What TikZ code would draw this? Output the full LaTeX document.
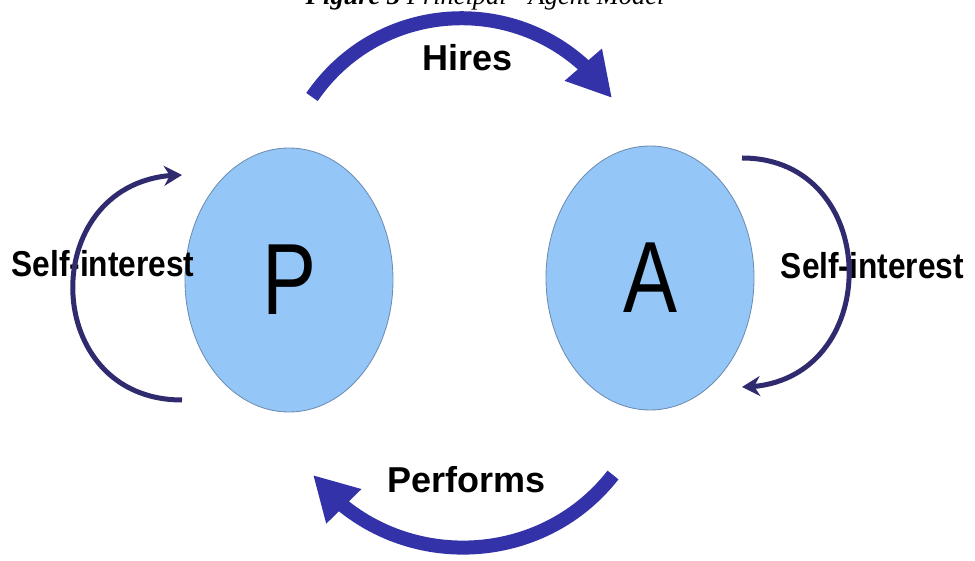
\documentclass[tikz,border=0pt]{standalone}
\usepackage{fontspec}
\setmainfont{Liberation Serif}
\setsansfont{Liberation Sans}
\usetikzlibrary{arrows.meta,bending,shapes.geometric}

\definecolor{arrowblue}{RGB}{52,50,168}
\definecolor{loopnavy}{RGB}{48,42,110}
\definecolor{ovalfill}{RGB}{148,199,248}
\definecolor{ovaledge}{RGB}{110,140,175}

\begin{document}
\begin{tikzpicture}[
	party/.style={ellipse, fill=ovalfill, draw=ovaledge, line width=0.6, minimum width=5.2cm, minimum height=6.6cm, inner sep=0, font=\sffamily\fontsize{72}{72}\selectfont},
	lbl/.style={font=\sffamily\bfseries\fontsize{25.6}{30}\selectfont, inner sep=0},
	bigarrow/.style={-{Triangle[length=1.1cm, width=1.15cm]}, line width=0.35cm, draw=arrowblue},
	selfarrow/.style={-{Stealth[length=0.45cm, width=0.5cm]}, line width=0.125cm, draw=loopnavy}
	]
	\useasboundingbox (0,0) rectangle (24.375,14);
	\clip (0,0) rectangle (24.375,14);

	\node[anchor=base, inner sep=0] (title) at (12.125,13.875) {\fontsize{18.8}{20}\selectfont\itshape\textbf{Figure 3} Principal - Agent Model};

	\node[party] (P) at (7.225,7) {\scalebox{.8}[1]{P}};
	\node[party] (A) at (16.25,7.05) {\scalebox{.8}[1]{A}};

	\node[lbl] (hires) at (11.69,12.55) {Hires};
	\node[lbl] (performs) at (11.66,2) {Performs};
	\node[lbl] (selfP) at (2.575,7.41) {\scalebox{.88}[1]{Self-interest}};
	\node[lbl] (selfA) at (21.81,7.35) {\scalebox{.88}[1]{Self-interest}};

	\coordinate (hiresS) at (7.8,11.575);
	\coordinate (hiresE) at (15.3,11.55);
	\coordinate (perfS) at (15.325,2.125);
	\coordinate (perfE) at (7.825,2.125);
	\coordinate (selfPs) at (4.55,4);
	\coordinate (selfPe) at (4.55,9.625);
	\coordinate (selfAs) at (18.55,10.05);
	\coordinate (selfAe) at (18.55,4.325);

	\draw[bigarrow] (hiresS) to[out=55.5, in=124.2, looseness=1.09] (hiresE);
	\draw[bigarrow] (perfS) to[out=-128, in=-52, looseness=1.05] (perfE);
	\draw[selfarrow] (selfPs) to[out=180, in=180, looseness=1.66] (selfPe);
	\draw[selfarrow] (selfAs) to[out=0, in=0, looseness=1.6] (selfAe);
\end{tikzpicture}
\end{document}
